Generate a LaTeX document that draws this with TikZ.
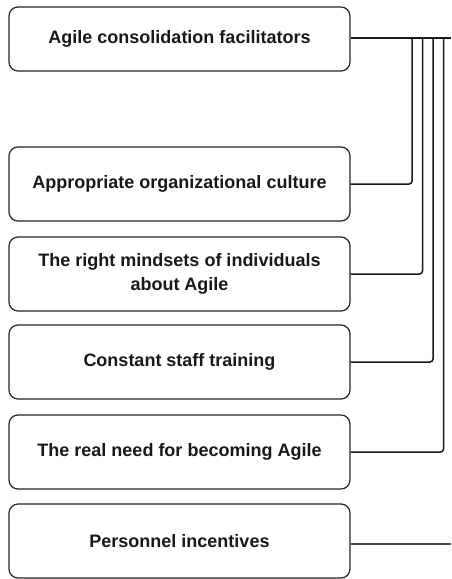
\documentclass[tikz,border=0pt]{standalone}
\usepackage{fontspec}
\setmainfont{Liberation Sans}
\begin{document}
\begin{tikzpicture}[x=1pt,y=-1pt,
  factor/.style={draw=black!85, line width=1.2pt, rounded corners=9pt,
    minimum width=341pt, minimum height=74pt, inner sep=0pt,
    align=center, font=\bfseries\fontsize{18}{24.5}\selectfont, text=black!90},
  link/.style={draw=black!90, line width=1.5pt, rounded corners=3pt}]
\useasboundingbox (0,0) rectangle (451,579);
\fill[white] (0,0) rectangle (451,579);

% factor boxes
\node[factor, minimum height=64pt] (f1) at (179.5,39) {Agile consolidation facilitators};
\node[factor] (f2) at (179.5,184) {Appropriate organizational culture};
\node[factor] (f3) at (179.5,274) {The right mindsets of individuals\\about Agile};
\node[factor] (f4) at (179.5,362) {Constant staff training};
\node[factor] (f5) at (179.5,452) {The real need for becoming Agile};
\node[factor] (f6) at (179.5,541) {Personnel incentives};

% trunk line and branch columns
\coordinate (trunk) at (451,38);
\coordinate (c2) at (412,38);
\coordinate (c3) at (422.5,38);
\coordinate (c4) at (433,38);
\coordinate (c5) at (443.5,38);
\coordinate (tail) at (451,544);

\draw[link] (f1.east |- trunk) -- (trunk);
\draw[link] (f2.east) -- (f2.east -| c2) -- (c2);
\draw[link] (f3.east) -- (f3.east -| c3) -- (c3);
\draw[link] (f4.east) -- (f4.east -| c4) -- (c4);
\draw[link] (f5.east) -- (f5.east -| c5) -- (c5);
\draw[link, draw=black!70] (f6.east |- tail) -- (tail);
\end{tikzpicture}
\end{document}
